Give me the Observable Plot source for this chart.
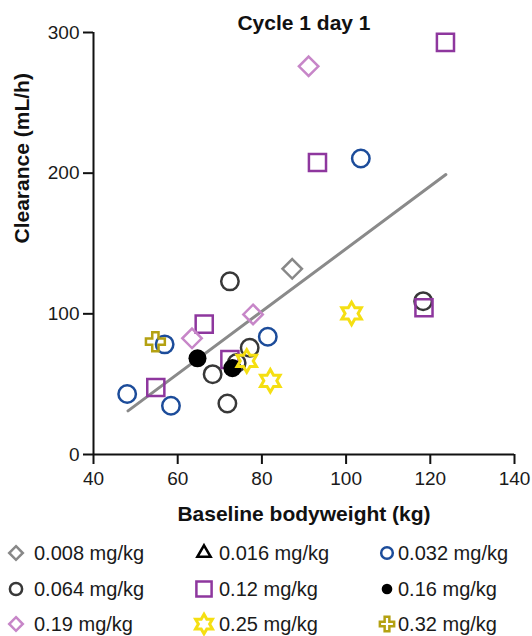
<!DOCTYPE html>
<html>
<head>
<meta charset="utf-8">
<script src="https://cdn.jsdelivr.net/npm/d3@7"></script>
<script src="https://cdn.jsdelivr.net/npm/@observablehq/plot@0.6"></script>
<style>
  html, body { margin: 0; padding: 0; background: #fff; }
  #wrap { position: relative; width: 532px; height: 636px; font-family: "Liberation Sans", Arial, sans-serif; }
  #legend { position: absolute; left: 0; top: 530px; }
</style>
</head>
<body>
<div id="wrap"><div id="chart"></div><svg id="legend" width="532" height="106"></svg></div>
<script>
// ---- data ----
const doseLabels = ["0.008 mg/kg", "0.016 mg/kg", "0.032 mg/kg", "0.064 mg/kg", "0.12 mg/kg", "0.16 mg/kg", "0.19 mg/kg", "0.25 mg/kg", "0.32 mg/kg"];
const pointDose = [
  "0.008 mg/kg",
  "0.032 mg/kg", "0.032 mg/kg", "0.032 mg/kg", "0.032 mg/kg", "0.032 mg/kg",
  "0.064 mg/kg", "0.064 mg/kg", "0.064 mg/kg", "0.064 mg/kg", "0.064 mg/kg", "0.064 mg/kg",
  "0.12 mg/kg", "0.12 mg/kg", "0.12 mg/kg", "0.12 mg/kg", "0.12 mg/kg", "0.12 mg/kg",
  "0.16 mg/kg", "0.16 mg/kg",
  "0.19 mg/kg", "0.19 mg/kg", "0.19 mg/kg",
  "0.25 mg/kg", "0.25 mg/kg", "0.25 mg/kg",
  "0.32 mg/kg"
];
const pointWeight = [
  87.2,
  103.5, 81.4, 56.9, 48.0, 58.4,
  72.4, 118.3, 77.1, 68.3, 71.8, 74.0,
  123.6, 93.2, 118.5, 66.3, 54.8, 72.4,
  64.7, 73.0,
  91.1, 77.9, 63.4,
  101.3, 82.0, 76.4,
  54.7
];
const pointClearance = [
  132,
  210.4, 83.7, 78.3, 43, 34.7,
  123.1, 109, 75.9, 57.1, 36.3, 65,
  293, 207.6, 104.3, 92.7, 47.6, 67.5,
  68.4, 61.4,
  276, 99.6, 82.6,
  100.3, 52.4, 66.5,
  80.2
];
const fitWeight = [48.2, 123.7];
const fitClearance = [31, 199];
const xTicks = [40, 60, 80, 100, 120, 140];
const yTicks = [0, 100, 200, 300];
const titleText = "Cycle 1 day 1";
const xLabel = "Baseline bodyweight (kg)";
const yLabel = "Clearance (mL/h)";

// ---- symbols ----
const rad = size => Math.sqrt(size / Math.PI);
const symDiamond = { draw(c, size) { const d = rad(size) * 1.08; c.moveTo(0, -d); c.lineTo(d, 0); c.lineTo(0, d); c.lineTo(-d, 0); c.closePath(); } };
const symSquare = { draw(c, size) { const s = rad(size) * 0.95; c.moveTo(-s, -s); c.lineTo(s, -s); c.lineTo(s, s); c.lineTo(-s, s); c.closePath(); } };
const symCircle = { draw(c, size) { const r = rad(size) * 0.97; c.moveTo(r, 0); c.arc(0, 0, r, 0, 2 * Math.PI); c.closePath(); } };
const symTriangle = { draw(c, size) { const r = rad(size) * 1.1; const h = r * Math.sqrt(3) / 2; c.moveTo(0, -r); c.lineTo(h, r / 2); c.lineTo(-h, r / 2); c.closePath(); } };
const symStar = { draw(c, size) {
  const R = rad(size) * 1.25, ri = R / Math.sqrt(3);
  for (let k = 0; k < 12; k++) {
    const a = -Math.PI / 2 + k * Math.PI / 6, rr = k % 2 === 0 ? R : ri;
    const px = rr * Math.cos(a), py = rr * Math.sin(a);
    if (k === 0) c.moveTo(px, py); else c.lineTo(px, py);
  }
  c.closePath();
} };
const symCross = { draw(c, size) {
  const e = rad(size) * 1.05, a = e * 0.33;
  const pts = [[-a,-e],[a,-e],[a,-a],[e,-a],[e,a],[a,a],[a,e],[-a,e],[-a,a],[-e,a],[-e,-a],[-a,-a]];
  pts.forEach((p, i) => i ? c.lineTo(p[0], p[1]) : c.moveTo(p[0], p[1]));
  c.closePath();
} };

const doseStyle = {
  "0.008 mg/kg": { symbol: symDiamond, stroke: "#888888", fill: "none" },
  "0.016 mg/kg": { symbol: symTriangle, stroke: "#000000", fill: "none" },
  "0.032 mg/kg": { symbol: symCircle, stroke: "#1c4c9a", fill: "none" },
  "0.064 mg/kg": { symbol: symCircle, stroke: "#383838", fill: "none" },
  "0.12 mg/kg": { symbol: symSquare, stroke: "#8e379e", fill: "none" },
  "0.16 mg/kg": { symbol: symCircle, stroke: "none", fill: "#000000" },
  "0.19 mg/kg": { symbol: symDiamond, stroke: "#c786c8", fill: "none" },
  "0.25 mg/kg": { symbol: symStar, stroke: "#f5df12", fill: "none" },
  "0.32 mg/kg": { symbol: symCross, stroke: "#b4a112", fill: "none" }
};
const drawOrder = ["0.064 mg/kg", "0.032 mg/kg", "0.12 mg/kg", "0.16 mg/kg", "0.19 mg/kg", "0.008 mg/kg", "0.016 mg/kg", "0.25 mg/kg", "0.32 mg/kg"];

const points = pointDose.map((d, i) => ({ dose: d, weight: pointWeight[i], clearance: pointClearance[i] }));
const fit = fitWeight.map((w, i) => ({ weight: w, clearance: fitClearance[i] }));

const dotMarks = drawOrder.map(d => {
  const s = doseStyle[d];
  return Plot.dot(points.filter(p => p.dose === d), {
    x: "weight", y: "clearance", r: d === "0.16 mg/kg" ? 9.3 : 9,
    symbol: s.symbol, stroke: s.stroke, fill: s.fill, strokeWidth: d === "0.25 mg/kg" ? 3 : 2.5
  });
});

const chart = Plot.plot({
  width: 532, height: 530,
  marginLeft: 93, marginRight: 18, marginTop: 32, marginBottom: 76,
  x: { domain: [40, 140] },
  y: { domain: [0, 300] },
  style: { fontFamily: "'Liberation Sans', Arial, sans-serif", color: "#1a1a1a", background: "white", overflow: "visible" },
  marks: [
    Plot.line(fit, { x: "weight", y: "clearance", stroke: "#8a8a8a", strokeWidth: 3 }),
    ...dotMarks,
    Plot.axisX({ ticks: xTicks, tickSize: 10, tickPadding: 7, fontSize: 19, strokeWidth: 2, stroke: "#111", label: null }),
    Plot.axisY({ ticks: yTicks, tickSize: 10, tickPadding: 4, fontSize: 19, strokeWidth: 2, stroke: "#111", label: null }),
    Plot.ruleX([40], { stroke: "#111", strokeWidth: 2 }),
    Plot.ruleY([0], { stroke: "#111", strokeWidth: 2 }),
    Plot.text([titleText], { frameAnchor: "top", lineAnchor: "bottom", dy: -3, fontSize: 21, fontWeight: "bold", fill: "#111" }),
    Plot.text([xLabel], { frameAnchor: "bottom", lineAnchor: "bottom", dy: 66, fontSize: 21, fontWeight: "bold", fill: "#111" }),
    Plot.text([yLabel], { frameAnchor: "left", rotate: -90, lineAnchor: "middle", dx: -71, fontSize: 21, fontWeight: "bold", fill: "#111" })
  ]
});
document.getElementById("chart").appendChild(chart);

// ---- legend ----
const legend = d3.select("#legend");
const colSym = [16, 204, 387], colText = [34, 219, 398], rowY = [23, 59, 94];
const legendSize = { "0.008 mg/kg": 6.3, "0.016 mg/kg": 7, "0.032 mg/kg": 6, "0.064 mg/kg": 6.3, "0.12 mg/kg": 8, "0.16 mg/kg": 5.5, "0.19 mg/kg": 6.3, "0.25 mg/kg": 7.8, "0.32 mg/kg": 6.8 };
doseLabels.forEach((d, i) => {
  const col = i % 3, row = Math.floor(i / 3);
  const s = doseStyle[d];
  const r = legendSize[d];
  const p = d3.path(); s.symbol.draw(p, r * r * Math.PI);
  legend.append("path").attr("d", p.toString())
    .attr("transform", `translate(${colSym[col]},${rowY[row]})`)
    .attr("fill", s.fill).attr("stroke", s.stroke).attr("stroke-width", d === "0.25 mg/kg" ? 3 : 2.5);
  legend.append("text").attr("x", colText[col]).attr("y", rowY[row]).attr("dy", "0.35em")
    .attr("font-size", 20).attr("font-family", "'Liberation Sans', Arial, sans-serif").attr("fill", "#1a1a1a").text(d);
});
</script>
</body>
</html>
